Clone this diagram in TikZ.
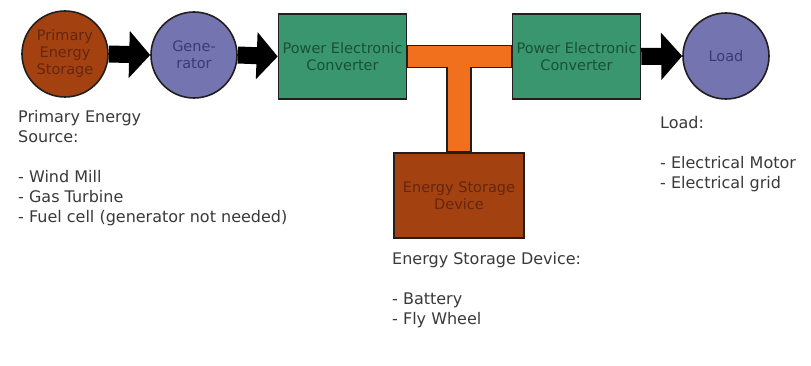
\documentclass[tikz,border=0pt]{standalone}
\usepackage{fontspec}
\setmainfont{DejaVu Sans}
\usetikzlibrary{arrows.meta}

\definecolor{brownfill}{RGB}{163,66,16}
\definecolor{browntext}{RGB}{100,38,14}
\definecolor{bluefill}{RGB}{116,116,176}
\definecolor{bluetext}{RGB}{58,58,118}
\definecolor{greenfill}{RGB}{58,150,110}
\definecolor{greentext}{RGB}{24,82,52}
\definecolor{busfill}{RGB}{240,112,30}
\definecolor{edgecol}{RGB}{34,30,30}
\definecolor{notetext}{RGB}{58,58,58}

\tikzset{
  unit/.style={draw=edgecol, line width=1.6pt, inner sep=0pt, align=center,
    font=\fontsize{14.5}{17}\selectfont},
  source/.style={unit, circle, minimum size=86pt, fill=brownfill, text=browntext},
  machine/.style={unit, circle, minimum size=86pt, fill=bluefill, text=bluetext},
  converter/.style={unit, rectangle, minimum width=128pt, minimum height=85pt,
    fill=greenfill, text=greentext},
  storebox/.style={unit, rectangle, minimum width=130pt, minimum height=85pt,
    fill=brownfill, text=browntext},
  note/.style={anchor=north west, inner sep=0pt, align=left, text=notetext,
    font=\fontsize{16}{20}\selectfont},
  flow/.style={draw=black, line width=17pt,
    -{Triangle[length=21pt,width=46pt]}},
  bus/.style={draw=edgecol, line width=1.6pt, fill=busfill, line join=miter}
}

\begin{document}
\begin{tikzpicture}[x=1pt,y=-1pt]
\useasboundingbox[fill=white] (0,0) rectangle (811,366);

% units
\node[source]    (pes)   at (65,54)     {Primary\\Energy\\Storage};
\node[machine]   (gen)   at (194,55)    {Gene-\\rator};
\node[converter] (pec1)  at (342.5,56.5) {Power Electronic\\Converter};
\node[converter] (pec2)  at (576.5,56.5) {Power Electronic\\Converter};
\node[machine]   (load)  at (726,56)    {Load};
\node[storebox]  (store) at (459,195.5) {Energy Storage\\Device};

% power flow
\draw[flow] (pes.east) -- (gen.west);
\draw[flow] (gen.east) -- (pec1.west);
\draw[flow] (pec2.east) -- (load.west);

% dc bus (T)
\draw[bus] ([yshift=11pt]pec1.east) -- ([yshift=11pt]pec2.west)
  -- ([yshift=-11pt]pec2.west) -| ([xshift=12pt]store.north)
  -- ([xshift=-12pt]store.north) |- ([yshift=-11pt]pec1.east) -- cycle;

% notes
\node[note] (pesnote)   at (18,110)  {Primary Energy\\Source:\\[20pt]- Wind Mill\\- Gas Turbine\\- Fuel cell (generator not needed)};
\node[note] (storenote) at (392,252) {Energy Storage Device:\\[20pt]- Battery\\- Fly Wheel};
\node[note] (loadnote)  at (660,116) {Load:\\[20pt]- Electrical Motor\\- Electrical grid};

\end{tikzpicture}
\end{document}
